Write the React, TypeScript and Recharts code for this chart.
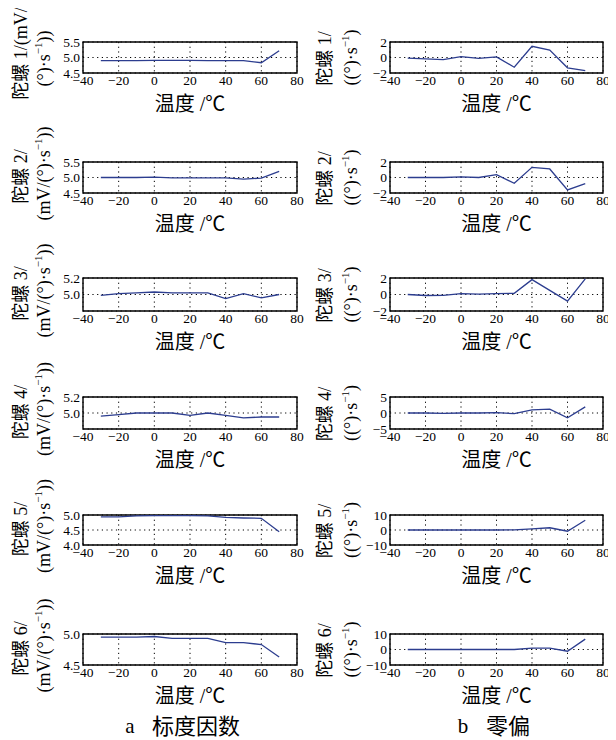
import React from 'react';
import { LineChart, Line, XAxis, YAxis, CartesianGrid, ReferenceArea } from 'recharts';

const temps = [-30, -20, -10, 0, 10, 20, 30, 40, 50, 60, 70];
const xTicks = [-40, -20, 0, 20, 40, 60, 80];

const scale1 = [4.9, 4.9, 4.9, 4.91, 4.91, 4.91, 4.9, 4.9, 4.9, 4.83, 5.22];
const scale2 = [5.0, 5.0, 5.0, 5.01, 4.99, 4.99, 4.99, 4.99, 4.95, 4.98, 5.2];
const scale3 = [4.99, 5.01, 5.02, 5.03, 5.02, 5.02, 5.02, 4.95, 5.01, 4.96, 5.0];
const scale4 = [4.96, 4.98, 5.0, 5.0, 5.0, 4.97, 5.0, 4.97, 4.94, 4.95, 4.95];
const scale5 = [4.94, 4.94, 4.97, 4.98, 4.98, 4.98, 4.97, 4.92, 4.9, 4.89, 4.44];
const scale6 = [4.95, 4.95, 4.95, 4.96, 4.93, 4.93, 4.93, 4.86, 4.86, 4.83, 4.63];

const bias1 = [-0.08, -0.17, -0.28, 0.12, -0.12, 0.08, -1.25, 1.45, 0.96, -1.33, -1.7];
const bias2 = [0.0, 0.0, 0.0, 0.08, 0.0, 0.37, -0.75, 1.31, 1.1, -1.6, -0.8];
const bias3 = [0.0, -0.12, -0.1, 0.1, 0.05, 0.1, 0.15, 1.8, 0.5, -0.8, 1.9];
const bias4 = [0.0, 0.0, -0.1, 0.0, 0.0, 0.1, -0.2, 1.0, 1.2, -1.5, 1.9];
const bias5 = [0.0, 0.0, 0.0, 0.0, 0.0, 0.0, 0.1, 0.8, 1.5, -0.8, 6.5];
const bias6 = [0.0, 0.0, 0.0, 0.0, 0.0, 0.0, 0.0, 0.9, 0.9, -1.1, 6.7];

const scaleTicks1 = [4.5, 5.0, 5.5];
const scaleTicks2 = [4.5, 5.0, 5.5];
const scaleTicks3 = [4.8, 5.0, 5.2];
const scaleTicks4 = [4.8, 5.0, 5.2];
const scaleTicks5 = [4.0, 4.5, 5.0];
const scaleTicks6 = [4.5, 5.0];
const biasTicks1 = [-2, 0, 2];
const biasTicks2 = [-2, 0, 2];
const biasTicks3 = [-2, 0, 2];
const biasTicks4 = [-5, 0, 5];
const biasTicks5 = [-10, 0, 10];
const biasTicks6 = [-10, 0, 10];

const gyroNames = ['1', '2', '3', '4', '5', '6'];
const xLabel = '温度 /℃';

const SERIF = '"Liberation Serif", "DejaVu Serif", serif';
const CJK = '"Liberation Serif", "Noto Sans CJK SC", serif';
const LINE = '#2c3d8f';

const OFF = 8;
const rowsY = [
  [42, 73],
  [162, 193],
  [278, 311],
  [397, 429],
  [515, 545],
  [634, 665],
];
const LEFT_X = [83, 297];
const RIGHT_X = [390, 603];

const fmtNum = (v: number, dec: number) => (v < 0 ? '\u2212' : '') + Math.abs(v).toFixed(dec);

type SubProps = {
  px: number[];
  py: number[];
  values: number[];
  ticks: number[];
  dec: number;
  hide?: number[];
};

function Sub({ px, py, values, ticks, dec, hide = [] }: SubProps) {
  const plotW = px[1] - px[0];
  const plotH = py[1] - py[0];
  const yAxisW = 40;
  const mTop = 10;
  const mRight = 8;
  const xAxisH = 20;
  const data = temps.map((t, i) => ({ t, v: values[i] }));
  const ymin = ticks[0];
  const ymax = ticks[ticks.length - 1];
  return (
    <div
      style={{
        position: 'absolute',
        left: px[0] - yAxisW - OFF,
        top: py[0] - mTop - OFF,
      }}
    >
      <LineChart
        width={plotW + yAxisW + mRight}
        height={plotH + mTop + xAxisH}
        data={data}
        margin={{ top: mTop, right: mRight, bottom: 0, left: 0 }}
      >
        <CartesianGrid stroke="#000" strokeDasharray="1.2 3.5" strokeWidth={1} />
        <XAxis
          dataKey="t"
          type="number"
          domain={[-40, 80]}
          ticks={xTicks}
          interval={0}
          height={xAxisH}
          tickLine={false}
          axisLine={false}
          tickSize={2}
          tickMargin={0}
          tickFormatter={(v: number) => fmtNum(v, 0)}
          tick={{ fontSize: 13.5, fill: '#000', fontFamily: SERIF }}
        />
        <YAxis
          type="number"
          domain={[ymin, ymax]}
          ticks={ticks}
          interval={0}
          width={yAxisW}
          allowDataOverflow
          tickLine={false}
          axisLine={false}
          tickSize={3}
          tickMargin={0}
          tickFormatter={(v: number) => (hide.includes(v) ? '' : fmtNum(v, dec))}
          tick={{ fontSize: 13.5, fill: '#000', fontFamily: SERIF }}
        />
        <ReferenceArea
          x1={-40}
          x2={80}
          y1={ymin}
          y2={ymax}
          fill="none"
          fillOpacity={0}
          stroke="#000"
          strokeWidth={1.4}
        />
        <Line
          type="linear"
          dataKey="v"
          stroke={LINE}
          strokeWidth={1.3}
          dot={false}
          isAnimationActive={false}
        />
      </LineChart>
    </div>
  );
}

const leftSeries = [scale1, scale2, scale3, scale4, scale5, scale6];
const leftTicks = [scaleTicks1, scaleTicks2, scaleTicks3, scaleTicks4, scaleTicks5, scaleTicks6];
const leftHide = [[], [], [4.8], [4.8], [], []];
const rightSeries = [bias1, bias2, bias3, bias4, bias5, bias6];
const rightTicks = [biasTicks1, biasTicks2, biasTicks3, biasTicks4, biasTicks5, biasTicks6];

function RotLabel({ x, y, children, size = 18 }: { x: number; y: number; children: React.ReactNode; size?: number }) {
  return (
    <text
      x={x - OFF}
      y={y - OFF}
      transform={`rotate(-90 ${x - OFF} ${y - OFF})`}
      textAnchor="middle"
      dominantBaseline="central"
      fontSize={size}
      fontFamily={CJK}
      fill="#000"
    >
      {children}
    </text>
  );
}

const sup = (
  <>
    <tspan dy={-6} fontSize={11}>
      {'\u22121'}
    </tspan>
    <tspan dy={6}>)</tspan>
  </>
);

export default function App() {
  return (
    <div style={{ position: 'relative', width: 600, height: 732, background: '#fff' }}>
      {rowsY.map((py, i) => (
        <Sub key={'l' + i} px={LEFT_X} py={py} values={leftSeries[i]} ticks={leftTicks[i]} dec={1} hide={leftHide[i]} />
      ))}
      {rowsY.map((py, i) => (
        <Sub key={'r' + i} px={RIGHT_X} py={py} values={rightSeries[i]} ticks={rightTicks[i]} dec={0} />
      ))}
      <svg
        width={600}
        height={732}
        style={{ position: 'absolute', left: 0, top: 0, pointerEvents: 'none' }}
      >
        {rowsY.map((py, i) => {
          const cy = (py[0] + py[1]) / 2 - 1;
          return (
            <g key={'lab' + i}>
              <text
                x={(LEFT_X[0] + LEFT_X[1]) / 2 - OFF}
                y={py[1] + 31 - OFF}
                textAnchor="middle"
                dominantBaseline="central"
                fontSize={20}
                fontFamily={CJK}
                fill="#000"
              >
                {xLabel}
              </text>
              <text
                x={(RIGHT_X[0] + RIGHT_X[1]) / 2 - OFF}
                y={py[1] + 31 - OFF}
                textAnchor="middle"
                dominantBaseline="central"
                fontSize={20}
                fontFamily={CJK}
                fill="#000"
              >
                {xLabel}
              </text>
              {i === 0 ? (
                <>
                  <RotLabel x={21} y={cy - 3}>{`陀螺 ${gyroNames[i]}/(mV/`}</RotLabel>
                  <RotLabel x={44} y={cy + 2}>
                    <tspan>{'(°)·s'}</tspan>
                    {sup}
                    <tspan>)</tspan>
                  </RotLabel>
                </>
              ) : (
                <>
                  <RotLabel x={21} y={cy}>{`陀螺 ${gyroNames[i]}/`}</RotLabel>
                  <RotLabel x={44} y={cy - 3}>
                    <tspan>{'(mV/(°)·s'}</tspan>
                    {sup}
                    <tspan>)</tspan>
                  </RotLabel>
                </>
              )}
              <RotLabel x={325} y={cy + 2}>{`陀螺 ${gyroNames[i]}/`}</RotLabel>
              <RotLabel x={351} y={cy + 1}>
                <tspan>{'((°)·s'}</tspan>
                {sup}
              </RotLabel>
            </g>
          );
        })}
        <text x={130 - OFF} y={726 - OFF} textAnchor="middle" dominantBaseline="central" fontSize={21} fontFamily={SERIF} fill="#000">
          a
        </text>
        <text x={152 - OFF} y={726 - OFF} textAnchor="start" dominantBaseline="central" fontSize={22} fontFamily={CJK} fill="#000">
          标度因数
        </text>
        <text x={463 - OFF} y={726 - OFF} textAnchor="middle" dominantBaseline="central" fontSize={21} fontFamily={SERIF} fill="#000">
          b
        </text>
        <text x={486 - OFF} y={726 - OFF} textAnchor="start" dominantBaseline="central" fontSize={22} fontFamily={CJK} fill="#000">
          零偏
        </text>
      </svg>
    </div>
  );
}
